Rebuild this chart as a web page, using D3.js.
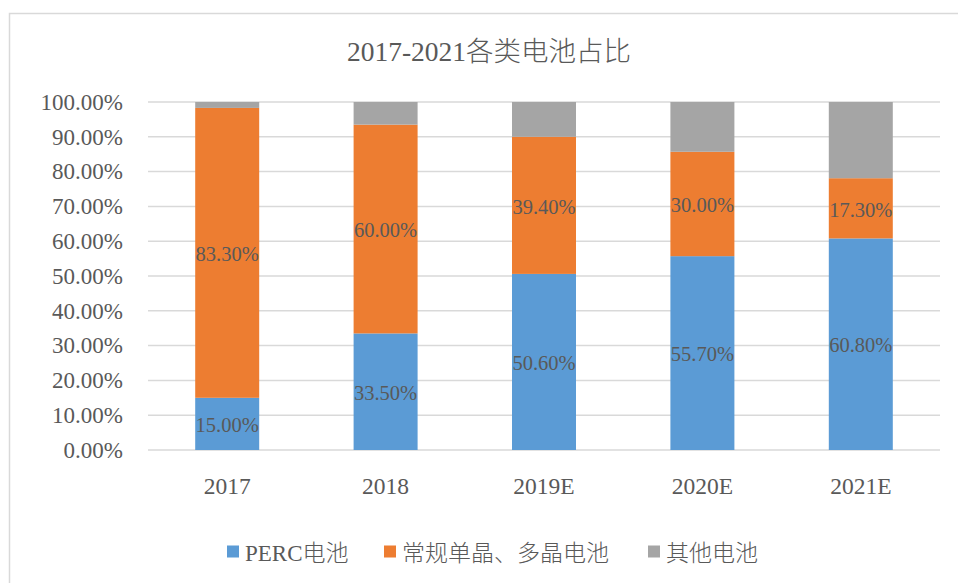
<!DOCTYPE html>
<html>
<head>
<meta charset="utf-8">
<script src="https://cdn.jsdelivr.net/npm/d3@7"></script>
<style>
  html, body { margin: 0; padding: 0; background: #fff; }
  svg { display: block; }
  text { font-family: "Liberation Serif", "Times New Roman", "Noto Sans CJK SC", serif; fill: #595959; }
  .cjk { font-family: "Liberation Serif", "Noto Sans CJK SC", sans-serif; font-weight: 300; }
</style>
</head>
<body>
<svg id="chart" width="958" height="583"></svg>
<script>
// Years on the x axis
const categories = ["2017", "2018", "2019E", "2020E", "2021E"];
// Share of each cell type (%)
const perc = [15.0, 33.5, 50.6, 55.7, 60.8];
const mono = [83.3, 60.0, 39.4, 30.0, 17.3];
const other = [1.7, 6.5, 10.0, 14.3, 21.9];
const seriesNames = ["PERC电池", "常规单晶、多晶电池", "其他电池"];
const seriesColors = ["#5B9BD5", "#ED7D31", "#A5A5A5"];
const yTicks = [0, 10, 20, 30, 40, 50, 60, 70, 80, 90, 100];
const title = "2017-2021各类电池占比";

const svg = d3.select("#chart");
const margin = { left: 148, right: 18, top: 102, bottom: 133 };
const W = 958, H = 583;

// Outer chart frame
svg.append("rect")
  .attr("x", 9.5).attr("y", 13.5)
  .attr("width", 1000).attr("height", 700)
  .attr("fill", "none").attr("stroke", "#d9d9d9").attr("stroke-width", 1.5);

const x = d3.scaleBand()
  .domain(categories)
  .range([margin.left, W - margin.right])
  .paddingInner(0.596).paddingOuter(0.298);

const y = d3.scaleLinear().domain([0, 100]).range([H - margin.bottom, margin.top]);

// Gridlines
svg.append("g").selectAll("line").data(yTicks).join("line")
  .attr("x1", margin.left).attr("x2", W - margin.right)
  .attr("y1", d => y(d)).attr("y2", d => y(d))
  .attr("stroke", "#d9d9d9").attr("stroke-width", 1.5);

// Y axis labels
const yAxis = d3.axisLeft(y).tickValues(yTicks).tickSize(0).tickPadding(25)
  .tickFormat(d => d.toFixed(2) + "%");
const gy = svg.append("g").attr("transform", `translate(${margin.left},0)`).call(yAxis);
gy.select(".domain").remove();
gy.selectAll("text").attr("font-size", 23).attr("fill", "#595959")
  .attr("font-family", "Liberation Serif, serif");

// X axis labels
const xAxis = d3.axisBottom(x).tickSize(0).tickPadding(27);
const gx = svg.append("g").attr("transform", `translate(0,${y(0)})`).call(xAxis);
gx.select(".domain").remove();
gx.selectAll("text").attr("font-size", 23.5).attr("fill", "#595959")
  .attr("font-family", "Liberation Serif, serif");

// Stacked bars
const rows = categories.map((c, i) => ({ cat: c, s0: perc[i], s1: mono[i], s2: other[i] }));
const stack = d3.stack().keys(["s0", "s1", "s2"]);
const layers = stack(rows);

const gBars = svg.append("g");
layers.forEach((layer, k) => {
  gBars.append("g").attr("fill", seriesColors[k])
    .selectAll("rect").data(layer).join("rect")
    .attr("x", d => x(d.data.cat))
    .attr("width", x.bandwidth())
    .attr("y", d => y(d[1]))
    .attr("height", d => y(d[0]) - y(d[1]));
});

// Value labels for PERC and mono/multi segments
layers.slice(0, 2).forEach(layer => {
  svg.append("g").selectAll("text").data(layer).join("text")
    .attr("x", d => x(d.data.cat) + x.bandwidth() / 2)
    .attr("y", d => y((d[0] + d[1]) / 2))
    .attr("dy", "0.4em")
    .attr("text-anchor", "middle")
    .attr("font-size", 20.5)
    .attr("fill", "#404040")
    .text(d => (d[1] - d[0]).toFixed(2) + "%");
});

// Title
svg.append("text").attr("class", "cjk")
  .attr("x", 489).attr("y", 61)
  .attr("text-anchor", "middle")
  .attr("font-size", 27.5)
  .text(title);

// Legend
const legendX = [227, 384, 648];
const lg = svg.append("g");
seriesNames.forEach((name, i) => {
  lg.append("rect").attr("x", legendX[i]).attr("y", 545.5)
    .attr("width", 12).attr("height", 12).attr("fill", seriesColors[i]);
  lg.append("text").attr("class", "cjk")
    .attr("x", legendX[i] + 18).attr("y", 561)
    .attr("font-size", 23)
    .text(name);
});
</script>
</body>
</html>
